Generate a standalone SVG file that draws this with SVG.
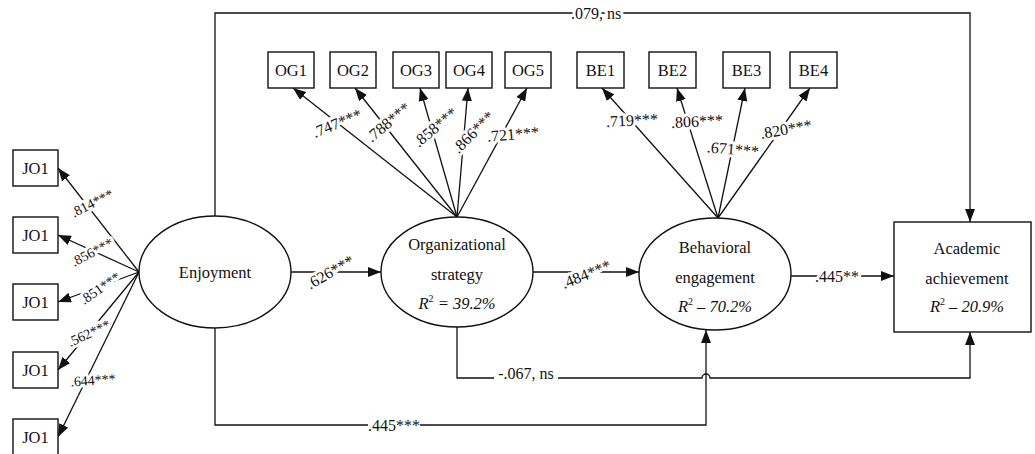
<svg xmlns="http://www.w3.org/2000/svg" width="1035" height="454" viewBox="0 0 1035 454">
<style>
text{font-family:"Liberation Serif","Times New Roman",serif;fill:#111}
.box{fill:#fff;stroke:#111;stroke-width:1.4}
.ell{fill:#fff;stroke:#111;stroke-width:1.4}
.t{font-size:16.5px;text-anchor:middle}
.ln{fill:none;stroke:#111;stroke-width:1.3}
.lb{font-size:16px;text-anchor:middle;stroke:#fff;stroke-width:6;paint-order:stroke;stroke-linejoin:round}
.ls{font-size:14px;text-anchor:middle;stroke:#fff;stroke-width:6;paint-order:stroke;stroke-linejoin:round}
.it{font-style:italic}
</style>
<defs>
<marker id="ah" markerUnits="userSpaceOnUse" markerWidth="13" markerHeight="10" refX="13" refY="5" orient="auto">
<path d="M0,0 L13,5 L0,10 z" fill="#111"/>
</marker>
</defs>
<g id="connectors">
<path class="ln" d="M215,216 V13 H970 V222" marker-end="url(#ah)"/>
<path class="ln" d="M139,272 L58,168" marker-end="url(#ah)"/>
<path class="ln" d="M139,272 L58,235" marker-end="url(#ah)"/>
<path class="ln" d="M139,272 L58,302" marker-end="url(#ah)"/>
<path class="ln" d="M139,272 L58,370" marker-end="url(#ah)"/>
<path class="ln" d="M139,272 L58,437" marker-end="url(#ah)"/>
<path class="ln" d="M457,217 L293,88" marker-end="url(#ah)"/>
<path class="ln" d="M457,217 L355,88" marker-end="url(#ah)"/>
<path class="ln" d="M457,217 L420,88" marker-end="url(#ah)"/>
<path class="ln" d="M457,217 L468,88" marker-end="url(#ah)"/>
<path class="ln" d="M457,217 L527,88" marker-end="url(#ah)"/>
<path class="ln" d="M718,218 L602,88" marker-end="url(#ah)"/>
<path class="ln" d="M718,218 L677,88" marker-end="url(#ah)"/>
<path class="ln" d="M718,218 L745,88" marker-end="url(#ah)"/>
<path class="ln" d="M718,218 L810,88" marker-end="url(#ah)"/>
<path class="ln" d="M291,272 H381" marker-end="url(#ah)"/>
<path class="ln" d="M533,272 H639" marker-end="url(#ah)"/>
<path class="ln" d="M791,276 H894" marker-end="url(#ah)"/>
<path class="ln" d="M457,327 V378 H494 M558,378 H702 A4,4 0 0 1 710,378 H970 V332" marker-end="url(#ah)"/>
<path class="ln" d="M215,328 V425 H368 M420,425 H706 V330" marker-end="url(#ah)"/>
<text class="lb" x="596" y="13" dy="0.35em">.079, ns</text>
<text class="ls" transform="translate(92,203) rotate(-27)" dy="0.35em">.814***</text>
<text class="ls" transform="translate(92,252) rotate(-28)" dy="0.35em">.856***</text>
<text class="ls" transform="translate(100,288) rotate(-35)" dy="0.35em">.851***</text>
<text class="ls" transform="translate(89,333) rotate(-25)" dy="0.35em">.562***</text>
<text class="ls" transform="translate(93,380) rotate(-4)" dy="0.35em">.644***</text>
<text class="lb" transform="translate(337,123) rotate(-22)" dy="0.35em">.747***</text>
<text class="lb" transform="translate(388,122) rotate(-40)" dy="0.35em">.788***</text>
<text class="lb" transform="translate(435,127) rotate(-40)" dy="0.35em">.858***</text>
<text class="lb" transform="translate(473,132) rotate(-45)" dy="0.35em">.866***</text>
<text class="lb" transform="translate(513,134) rotate(-5)" dy="0.35em">.721***</text>
<text class="lb" transform="translate(632,120) rotate(-3)" dy="0.35em">.719***</text>
<text class="lb" transform="translate(697,121) rotate(-3)" dy="0.35em">.806***</text>
<text class="lb" transform="translate(733,149) rotate(5)" dy="0.35em">.671***</text>
<text class="lb" transform="translate(786,129) rotate(-10)" dy="0.35em">.820***</text>
<text class="lb" transform="translate(330,272) rotate(-30)" dy="0.35em">.626***</text>
<text class="lb" transform="translate(586,274) rotate(-22)" dy="0.35em">.484***</text>
<text class="lb" x="837" y="276" dy="0.35em">.445**</text>
<text class="lb" x="526" y="379" style="stroke-width:0">-.067, ns</text>
<text class="lb" x="394" y="425" dy="0.35em" style="stroke-width:0">.445***</text>
</g>
<g id="JO1a"><rect class="box" x="13" y="150" width="45" height="36"/><text class="t" x="35.5" y="174">JO1</text></g>
<g id="JO1b"><rect class="box" x="13" y="217" width="45" height="36"/><text class="t" x="35.5" y="241">JO1</text></g>
<g id="JO1c"><rect class="box" x="13" y="284" width="45" height="36"/><text class="t" x="35.5" y="308">JO1</text></g>
<g id="JO1d"><rect class="box" x="13" y="352" width="45" height="36"/><text class="t" x="35.5" y="376">JO1</text></g>
<g id="JO1e"><rect class="box" x="13" y="419" width="45" height="36"/><text class="t" x="35.5" y="443">JO1</text></g>
<g id="OG1"><rect class="box" x="268" y="52" width="46" height="36"/><text class="t" x="291" y="76">OG1</text></g>
<g id="OG2"><rect class="box" x="330" y="52" width="46" height="36"/><text class="t" x="353" y="76">OG2</text></g>
<g id="OG3"><rect class="box" x="393" y="52" width="46" height="36"/><text class="t" x="416" y="76">OG3</text></g>
<g id="OG4"><rect class="box" x="446" y="52" width="46" height="36"/><text class="t" x="469" y="76">OG4</text></g>
<g id="OG5"><rect class="box" x="505" y="52" width="46" height="36"/><text class="t" x="528" y="76">OG5</text></g>
<g id="BE1"><rect class="box" x="577" y="52" width="47" height="36"/><text class="t" x="600.5" y="76">BE1</text></g>
<g id="BE2"><rect class="box" x="649" y="52" width="47" height="36"/><text class="t" x="672.5" y="76">BE2</text></g>
<g id="BE3"><rect class="box" x="723" y="52" width="47" height="36"/><text class="t" x="746.5" y="76">BE3</text></g>
<g id="BE4"><rect class="box" x="790" y="52" width="47" height="36"/><text class="t" x="813.5" y="76">BE4</text></g>
<g id="enjoyment"><ellipse class="ell" cx="215" cy="272" rx="76" ry="56"/><text class="t" x="215" y="278">Enjoyment</text></g>
<g id="organizational"><ellipse class="ell" cx="457" cy="272" rx="76" ry="55"/><text class="t" x="457" y="250">Organizational</text><text class="t" x="457" y="280">strategy</text><text class="t" x="457" y="309"><tspan class="it">R</tspan><tspan dy="-7" font-size="10">2</tspan><tspan dy="7" class="it"> = 39.2%</tspan></text></g>
<g id="behavioral"><ellipse class="ell" cx="715" cy="274" rx="76" ry="56"/><text class="t" x="715" y="253">Behavioral</text><text class="t" x="715" y="283">engagement</text><text class="t" x="715" y="312"><tspan class="it">R</tspan><tspan dy="-7" font-size="10">2</tspan><tspan dy="7" class="it"> – 70.2%</tspan></text></g>
<g id="academic"><rect class="box" x="894" y="222" width="137" height="110"/><text class="t" x="967" y="254">Academic</text><text class="t" x="967" y="284">achievement</text><text class="t" x="967" y="312"><tspan class="it">R</tspan><tspan dy="-7" font-size="10">2</tspan><tspan dy="7" class="it"> – 20.9%</tspan></text></g>
</svg>
